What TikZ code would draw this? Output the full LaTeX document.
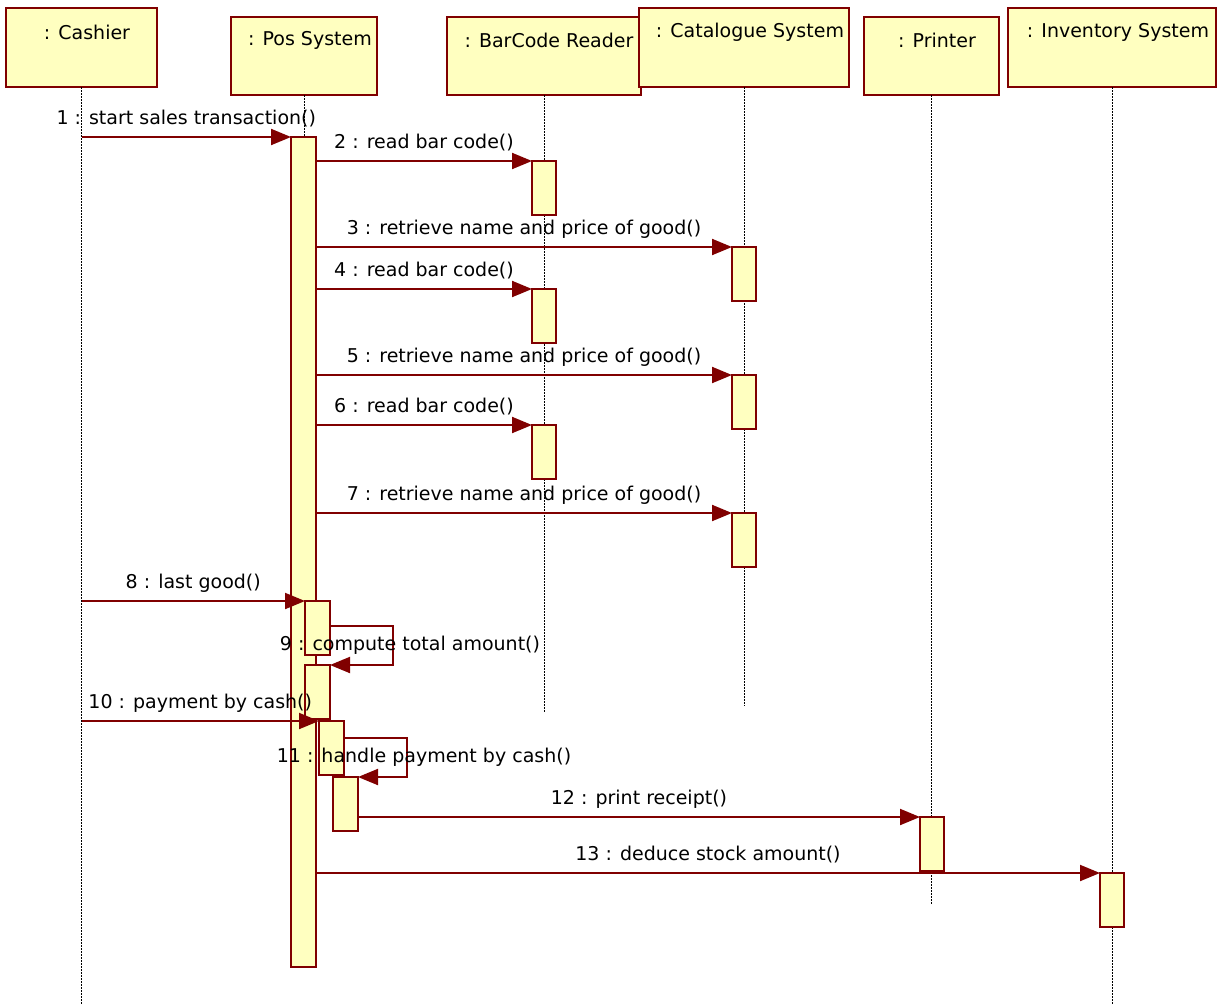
\documentclass[tikz,border=0pt]{standalone}
\usepackage{fontspec}
\setmainfont{DejaVu Sans}
\usetikzlibrary{arrows.meta,calc}
\definecolor{dred}{HTML}{800000}
\definecolor{lyel}{HTML}{FFFFC0}
\begin{document}
\begin{tikzpicture}[x=1pt,y=-1pt,
  every node/.style={inner sep=0pt,outer sep=0pt},
  obj/.style={draw=dred,fill=lyel,line width=2pt,rectangle},
  objtext/.style={font=\fontsize{19}{22}\selectfont,text=black},
  actbar/.style={draw=dred,fill=lyel,line width=2pt,rectangle,minimum width=24pt,minimum height=54pt},
  life/.style={black,line width=1pt,dash pattern=on 1.5pt off 1.5pt},
  msg/.style={dred,line width=2pt,-{Triangle[length=20pt,width=16pt]}},
  lbl/.style={font=\fontsize{19}{22}\selectfont,text=black}]
\useasboundingbox (0,0) rectangle (1218,1007);
% objects
\node[obj,minimum width=151pt,minimum height=79pt] (cashier) at (81.5,47.5) {};
\node[objtext] (cashierT) at (87,32) {: Cashier};
\node[obj,minimum width=146pt,minimum height=78pt] (pos) at (304,56) {};
\node[objtext] (posT) at (310,40) {: Pos System};
\node[obj,minimum width=194pt,minimum height=78pt] (bar) at (544,56) {};
\node[objtext] (barT) at (549,40) {: BarCode Reader};
\node[obj,minimum width=210pt,minimum height=79pt] (cat) at (744,47.5) {};
\node[objtext] (catT) at (750,32) {: Catalogue System};
\node[obj,minimum width=135pt,minimum height=78pt] (prn) at (931.5,56) {};
\node[objtext] (prnT) at (937,40) {: Printer};
\node[obj,minimum width=208pt,minimum height=79pt] (inv) at (1112,47.5) {};
\node[objtext] (invT) at (1118,32) {: Inventory System};
% lifeline ends
\coordinate (cashierE) at (81.5,1005);
\coordinate (posE) at (304,967);
\coordinate (barE) at (544,713);
\coordinate (catE) at (744,706);
\coordinate (prnE) at (931.5,905);
\coordinate (invE) at (1112,1005);
\draw[life] (cashier.south) -- (cashierE);
\draw[life] (pos.south) -- (posE);
\draw[life] (bar.south) -- (barE);
\draw[life] (cat.south) -- (catE);
\draw[life] (prn.south) -- (prnE);
\draw[life] (inv.south) -- (invE);
% activation bars
\node[actbar,minimum width=25pt,minimum height=830pt] (posbar) at (303.5,552) {};
\node[actbar] (b2) at (544,188) {};
\node[actbar] (b4) at (544,316) {};
\node[actbar] (b6) at (544,452) {};
\node[actbar] (c3) at (744,274) {};
\node[actbar] (c5) at (744,402) {};
\node[actbar] (c7) at (744,540) {};
\node[actbar,minimum width=25pt] (n8) at (317.5,628) {};
\node[actbar,minimum width=25pt] (n9) at (317.5,692) {};
\node[actbar,minimum width=25pt] (n10) at (331.5,748) {};
\node[actbar,minimum width=25pt] (n11) at (345.5,804) {};
\node[actbar] (pr12) at (932,844) {};
\node[actbar] (inv13) at (1112,900) {};
% messages
\draw[msg] (cashier.south |- posbar.north) -- node[lbl,midway,yshift=18pt] (m1) {1 : start sales transaction()} (posbar.north west);
\draw[msg] (posbar.east |- b2.north) -- node[lbl,midway,yshift=18pt] (m2) {2 : read bar code()} (b2.north west);
\draw[msg] (posbar.east |- c3.north) -- node[lbl,midway,yshift=18pt] (m3) {3 : retrieve name and price of good()} (c3.north west);
\draw[msg] (posbar.east |- b4.north) -- node[lbl,midway,yshift=18pt] (m4) {4 : read bar code()} (b4.north west);
\draw[msg] (posbar.east |- c5.north) -- node[lbl,midway,yshift=18pt] (m5) {5 : retrieve name and price of good()} (c5.north west);
\draw[msg] (posbar.east |- b6.north) -- node[lbl,midway,yshift=18pt] (m6) {6 : read bar code()} (b6.north west);
\draw[msg] (posbar.east |- c7.north) -- node[lbl,midway,yshift=18pt] (m7) {7 : retrieve name and price of good()} (c7.north west);
\draw[msg] (cashier.south |- n8.north) -- node[lbl,midway,yshift=18pt] (m8) {8 : last good()} (n8.north west);
\draw[msg] ([yshift=2pt]n8.east) -- ++(63,0) |- node[lbl,pos=0.25,xshift=17pt] (m9) {9 : compute total amount()} (n9.north east);
\draw[msg] (cashier.south |- n10.north) -- node[lbl,midway,yshift=18pt] (m10) {10 : payment by cash()} (n10.north west);
\draw[msg] ([yshift=10pt]n10.east) -- ++(63,0) |- node[lbl,pos=0.25,xshift=17pt] (m11) {11 : handle payment by cash()} (n11.north east);
\draw[msg] (n11.east |- pr12.north) -- node[lbl,midway,yshift=18pt] (m12) {12 : print receipt()} (pr12.north west);
\draw[msg] (posbar.east |- inv13.north) -- node[lbl,midway,yshift=18pt] (m13) {13 : deduce stock amount()} (inv13.north west);
\end{tikzpicture}
\end{document}
